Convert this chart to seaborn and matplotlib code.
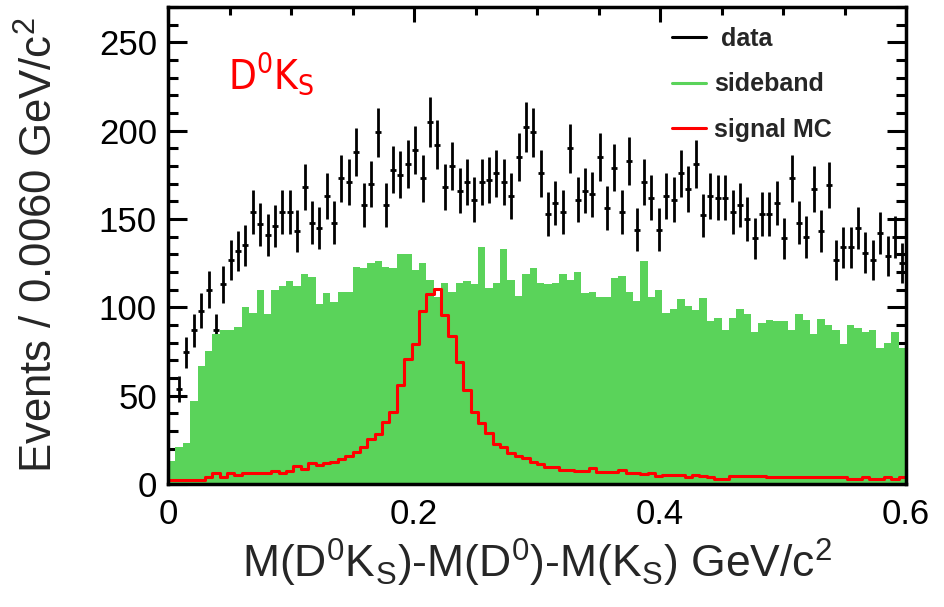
import os
import numpy as np
import pandas as pd
import seaborn as sns
import matplotlib.pyplot as plt
from matplotlib import font_manager
from matplotlib.lines import Line2D
from matplotlib.ticker import MultipleLocator

# M(D0Ks)-M(D0)-M(Ks): 100 bins of 0.006 GeV/c^2 between 0 and 0.6
x_lo, x_hi, n_bins = 0.0, 0.6, 100

# data (bin 0 empty)
data_counts = [
    0, 54, 74.5, 87, 98, 110, 87, 113, 127, 132,
    135, 154, 147, 141, 146, 154, 154, 143, 168, 148,
    145, 163, 148, 173, 171, 188, 158, 170, 199, 158,
    178, 175, 181, 189, 173, 205, 192, 168, 180, 166,
    171, 161, 171, 172, 176, 171, 163, 185, 202, 199,
    176, 153, 159, 154, 190, 161, 166, 164, 185, 156,
    179, 154, 183, 144, 171, 162, 144, 163, 161, 176,
    167, 181, 152, 163, 162, 162, 154, 158, 150, 139,
    153, 153, 159, 139, 173, 148, 140, 167, 143, 169,
    127, 134, 134, 145, 131, 127, 142, 129, 140, 125,
]

sideband_counts = [
    13, 21, 23, 47, 67, 75.5, 85, 87, 87, 89,
    100, 97, 110, 96, 110, 112, 115, 112, 119, 117,
    102, 108, 103, 108.5, 108.5, 123, 122, 125, 126, 123,
    122, 130, 130, 121, 125, 115.5, 106, 114, 108.5, 114,
    115, 113, 134, 111, 114, 133, 115.5, 106.5, 119, 122,
    114, 113, 114, 119, 115.5, 120, 108, 108.5, 106, 106,
    116.5, 118, 108.5, 103.5, 126, 106, 110, 97, 99, 105,
    101, 98.5, 105.5, 92.5, 94, 87, 94, 99, 96, 86,
    91, 93, 92, 92, 87, 96.5, 93, 85, 93.5, 90,
    87, 79.5, 90, 88.5, 86, 87, 77, 80, 86, 77,
]

signal_mc = [
    2.5, 2.5, 2.5, 2.5, 2.5, 4.2, 6, 4.2, 6, 5.3,
    6, 6, 6, 6, 7.5, 6, 7.2, 10, 8.5, 11.7,
    11, 11.7, 12.3, 14.2, 16, 18, 20.8, 25.5, 28.3, 35,
    41, 56, 71, 79, 98, 107.5, 110.4, 95.5, 84, 69,
    53, 41, 34.5, 29, 22.6, 21, 17.6, 15.7, 14.5, 12.5,
    11.2, 9.6, 9.6, 8.2, 8.2, 7.5, 7.5, 9, 7, 7,
    7, 7.7, 6, 6, 5.5, 6, 4.5, 5.3, 5.3, 5.3,
    3.8, 5.3, 4.3, 4, 3, 3, 4.5, 4.5, 4.5, 4.5,
    4.5, 3.8, 3.8, 3.8, 3.8, 3.8, 3.8, 3.8, 3.8, 3.8,
    3.8, 3.8, 2.8, 2.8, 3.8, 2.8, 2.8, 3.8, 2.8, 3.8,
]

GREEN = "#5ad35a"

edges = np.linspace(x_lo, x_hi, n_bins + 1)
centers = 0.5 * (edges[:-1] + edges[1:])
df = pd.DataFrame({
    "mass": centers,
    "data": data_counts,
    "sideband": sideband_counts,
    "signal": signal_mc,
})

sns.set_theme(style="ticks")
plt.rcParams["font.family"] = ["Liberation Sans", "DejaVu Sans"]
plt.rcParams["mathtext.fontset"] = "custom"
plt.rcParams["mathtext.rm"] = "Liberation Sans"
plt.rcParams["mathtext.it"] = "Liberation Sans"
plt.rcParams["mathtext.bf"] = "Liberation Sans:bold"


def narrow_font(size):
    # channel label is set in a condensed face, take one if installed
    files = {os.path.basename(f.fname): f.fname
             for f in font_manager.fontManager.ttflist}
    for want in ["LiberationSansNarrow-Regular.ttf", "DejaVuSansCondensed.ttf"]:
        if want in files:
            return font_manager.FontProperties(fname=files[want], size=size)
    return font_manager.FontProperties(family="Roboto", size=size)


fig = plt.figure(figsize=(9.44, 6.07), dpi=100)
ax = fig.add_axes([168 / 944, 1 - 484 / 607, 738 / 944, 477 / 607])

# data points first, the sideband histogram covers them where they overlap
pts = df[df["data"] > 0]
ax.errorbar(pts["mass"], pts["data"], yerr=np.sqrt(pts["data"]),
            fmt="_", color="black", ms=4.5, mew=2, elinewidth=2,
            capsize=0, zorder=1)

sns.histplot(data=df, x="mass", weights="sideband", bins=n_bins,
             binrange=(x_lo, x_hi), element="bars", color=GREEN,
             alpha=1, linewidth=0, ax=ax, zorder=2)
sns.histplot(data=df, x="mass", weights="signal", bins=n_bins,
             binrange=(x_lo, x_hi), element="step", fill=False,
             color="red", linewidth=2.2, ax=ax, zorder=3)

ax.set_xlim(x_lo, x_hi)
ax.set_ylim(0, 270)
ax.xaxis.set_major_locator(MultipleLocator(0.2))
ax.xaxis.set_minor_locator(MultipleLocator(0.05))
ax.yaxis.set_major_locator(MultipleLocator(50))
ax.yaxis.set_minor_locator(MultipleLocator(10))
ax.xaxis.set_major_formatter(lambda v, p: "0" if abs(v) < 1e-9 else f"{v:g}")

ax.tick_params(which="both", direction="in", top=True, right=True,
               width=2.2, colors="black", labelsize=25)
ax.tick_params(axis="y", which="major", length=14, pad=8)
ax.tick_params(axis="y", which="minor", length=7)
ax.tick_params(axis="x", which="major", length=11, pad=10)
ax.tick_params(axis="x", which="minor", length=5.5)
for s in ax.spines.values():
    s.set_linewidth(2.5)
    s.set_color("black")
    s.set_zorder(5)

ax.set_xlabel(r"M(D$^{0}$K$_{\mathrm{S}}$)-M(D$^{0}$)-M(K$_{\mathrm{S}}$) GeV/c$^{2}$",
              fontsize=32)
ax.set_ylabel(r"Events / 0.0060 GeV/c$^{2}$", fontsize=31.5)
ax.xaxis.set_label_coords(0.5, -0.11)
ax.yaxis.set_label_coords(-0.144, 0.5)

ax.text(0.081, 0.83, r"D$^{\mathregular{0}}$K$_{\mathregular{S}}$",
        transform=ax.transAxes, color="red", fontproperties=narrow_font(29))

handles = [Line2D([], [], color="black", lw=2.2),
           Line2D([], [], color=GREEN, lw=2.2),
           Line2D([], [], color="red", lw=2.2)]
ax.legend(handles, [" data", "sideband", "signal MC"], loc="upper left",
          bbox_to_anchor=((672 - 168) / 738, (484 - 27) / 477),
          frameon=False, borderpad=0, borderaxespad=0,
          handlelength=1.35, handletextpad=0.35, labelspacing=0.85,
          prop={"size": 18, "weight": "bold"})

fig.savefig("out.png", dpi=100)
